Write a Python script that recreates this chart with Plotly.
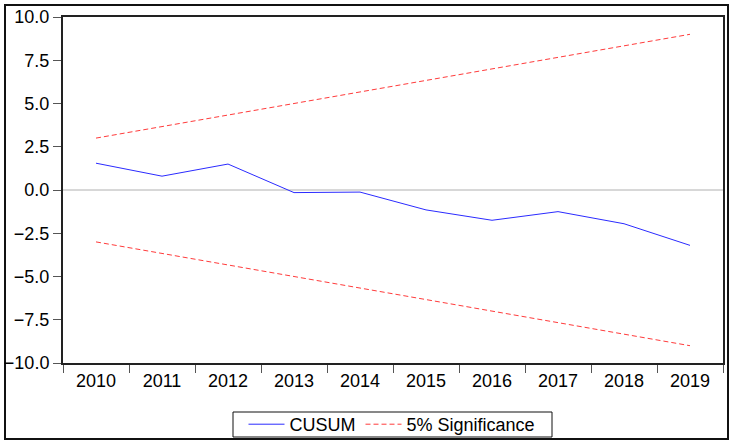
import plotly.graph_objects as go

years = ["2010", "2011", "2012", "2013", "2014", "2015", "2016", "2017", "2018", "2019"]
cusum = [1.55, 0.80, 1.50, -0.15, -0.12, -1.15, -1.75, -1.25, -1.95, -3.20]
upper = [3.0, 3.667, 4.333, 5.0, 5.667, 6.333, 7.0, 7.667, 8.333, 9.0]
lower = [-3.0, -3.667, -4.333, -5.0, -5.667, -6.333, -7.0, -7.667, -8.333, -9.0]
yticks = [-10.0, -7.5, -5.0, -2.5, 0.0, 2.5, 5.0, 7.5, 10.0]

fig = go.Figure()
fig.add_trace(go.Scatter(x=years, y=cusum, mode="lines", name="CUSUM",
                         line=dict(color="#2b2bff", width=1)))
fig.add_trace(go.Scatter(x=years, y=upper, mode="lines", name="5% Significance",
                         line=dict(color="#ff3b3b", width=1, dash="5px,3px")))
fig.add_trace(go.Scatter(x=years, y=lower, mode="lines", name="5% Significance",
                         showlegend=False,
                         line=dict(color="#ff3b3b", width=1, dash="5px,3px")))

W, H = 734, 446
L, R, T, B = 63, 11, 17, 83
pw, ph = W - L - R, H - T - B

def px_x(p):
    return (p - L) / pw

def px_y(p):
    return (H - B - p) / ph

# outer frame
fig.add_shape(type="rect", xref="paper", yref="paper",
              x0=px_x(5), x1=px_x(728), y0=px_y(439), y1=px_y(5),
              line=dict(color="#111111", width=2), layer="below")
# legend frame
fig.add_shape(type="rect", xref="paper", yref="paper",
              x0=px_x(233), x1=px_x(552), y0=px_y(437), y1=px_y(412),
              line=dict(color="#111111", width=1), layer="below")
# zero line
fig.add_shape(type="line", xref="paper", yref="y", x0=0, x1=1, y0=0, y1=0,
              line=dict(color="#b0b0b0", width=1), layer="below")

fig.update_layout(
    width=W, height=H,
    margin=dict(l=L, r=R, t=T, b=B, autoexpand=False),
    paper_bgcolor="white", plot_bgcolor="white",
    font=dict(family="Liberation Sans, Arial, sans-serif", size=18, color="black"),
    showlegend=True,
    legend=dict(orientation="h", xref="container", yref="container",
                x=392 / W, xanchor="center", y=(H - 424.5) / H, yanchor="middle",
                borderwidth=0, bgcolor="rgba(0,0,0,0)",
                font=dict(size=18), itemwidth=36, tracegroupgap=0),
    xaxis=dict(type="category", range=[-0.5, 9.5], tickson="boundaries",
               ticks="outside", ticklen=8, tickcolor="#555555", tickwidth=1,
               showgrid=False, zeroline=False, showline=True, linecolor="#222222",
               linewidth=2, mirror=True, tickfont=dict(size=18)),
    yaxis=dict(range=[-10, 10], tickvals=yticks, tickformat=".1f",
               ticks="outside", ticklen=8, tickcolor="#555555", tickwidth=1,
               showgrid=False, zeroline=False, showline=True, linecolor="#222222",
               linewidth=2, mirror=True, tickfont=dict(size=18)),
)

fig.write_html("out.html", config={"displayModeBar": False},
               post_script="document.body.style.margin='0';document.body.style.overflow='hidden';")
